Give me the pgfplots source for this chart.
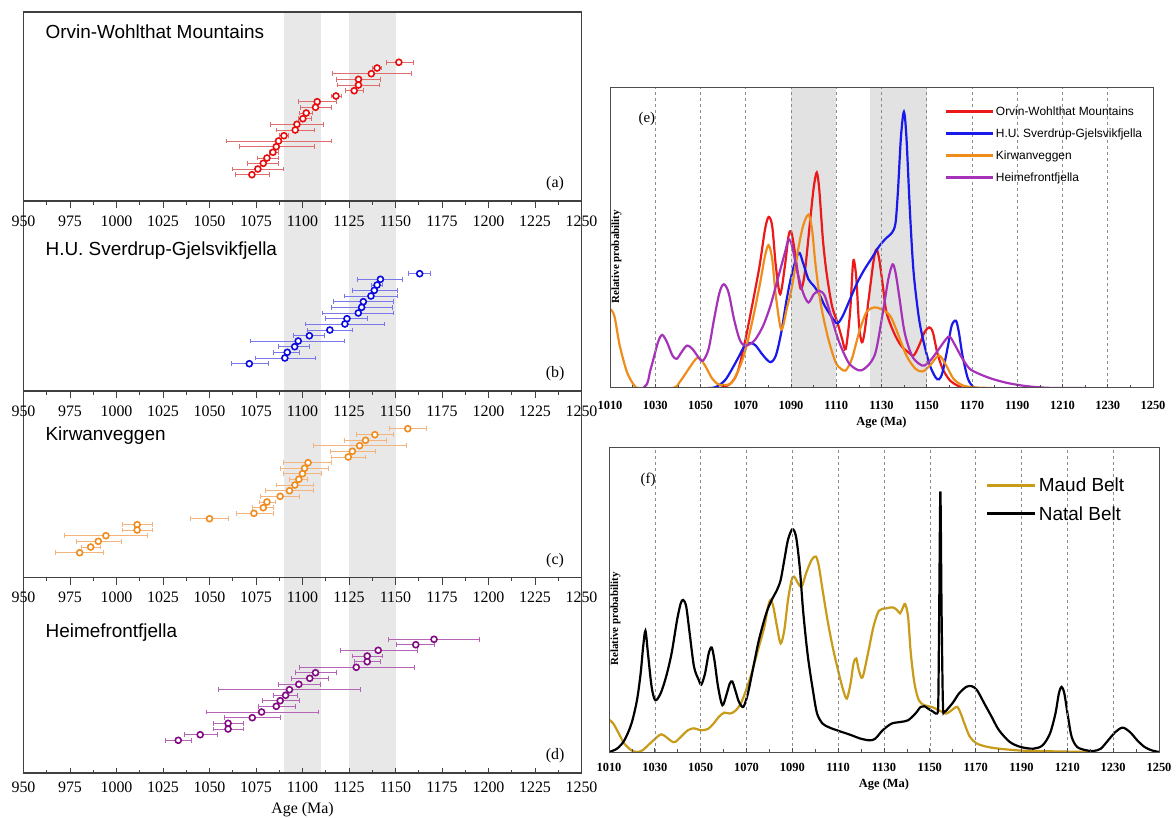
\documentclass[border=0pt]{standalone}
\usepackage{fontspec}
\setmainfont{Liberation Serif}
\newfontfamily\sans{Liberation Sans}
\usepackage{pgfplots}
\usepackage{pgfplotstable}
\pgfplotsset{compat=1.18}

\definecolor{cRed}{RGB}{232,12,12}
\definecolor{cRedBar}{RGB}{222,110,110}
\definecolor{cBlue}{RGB}{10,10,225}
\definecolor{cBlueBar}{RGB}{120,120,232}
\definecolor{cOrange}{RGB}{240,140,30}
\definecolor{cOrangeBar}{RGB}{244,180,125}
\definecolor{cPurple}{RGB}{130,10,130}
\definecolor{cPurpleBar}{RGB}{180,100,180}
\definecolor{band}{RGB}{232,232,232}
\definecolor{bandE}{RGB}{226,226,226}
\definecolor{eRed}{RGB}{235,25,25}
\definecolor{eBlue}{RGB}{25,25,235}
\definecolor{eOrange}{RGB}{240,140,25}
\definecolor{ePurple}{RGB}{165,50,185}
\definecolor{maud}{RGB}{200,155,25}

% ---------- left panels: age, row position (px), lower, upper ----------
\pgfplotstableread{
x y lo hi
1151.8 62.3 1145.4 1159.4
1140.1 68.0 1137.5 1142.5
1137.0 73.7 1116.0 1158.5
1130.1 79.3 1118.0 1142.0
1130.1 85.0 1119.0 1141.4
1127.8 90.7 1123.0 1133.0
1118.0 96.0 1115.4 1121.0
1107.9 101.7 1098.0 1118.0
1107.0 107.3 1098.8 1115.4
1102.0 113.0 1098.4 1105.6
1100.2 118.7 1098.0 1104.7
1097.0 124.3 1082.7 1111.3
1096.1 130.0 1085.9 1106.5
1090.0 135.7 1087.7 1092.7
1087.1 141.0 1059.0 1115.4
1085.9 146.7 1066.2 1106.5
1084.1 152.3 1082.3 1086.8
1080.9 158.0 1076.0 1087.3
1078.9 163.3 1070.6 1087.0
1076.0 169.0 1062.2 1090.0
1072.8 174.7 1064.0 1082.3
}\tabA
\pgfplotstableread{
x y lo hi
1163.0 273.7 1157.2 1168.9
1141.9 279.3 1129.6 1154.0
1140.1 285.0 1136.8 1143.2
1138.6 290.3 1126.9 1151.3
1136.8 296.0 1122.8 1151.3
1132.7 301.7 1116.5 1149.1
1131.8 307.3 1115.6 1148.6
1130.0 313.0 1110.7 1149.1
1123.9 318.7 1112.2 1135.0
1122.8 324.0 1101.4 1144.0
1114.7 330.0 1102.6 1126.9
1103.7 335.7 1095.4 1112.0
1097.7 341.0 1072.2 1122.8
1095.8 346.7 1087.3 1103.5
1091.8 352.3 1084.2 1098.5
1090.5 358.0 1074.7 1106.8
1071.4 363.7 1061.7 1081.5
}\tabB
\pgfplotstableread{
x y lo hi
1156.6 428.7 1146.6 1166.6
1138.9 434.7 1128.8 1148.8
1133.9 440.3 1122.5 1145.2
1130.7 445.7 1105.9 1155.9
1126.8 451.3 1114.8 1139.1
1124.6 457.0 1115.7 1134.1
1103.0 462.7 1090.0 1115.7
1101.1 468.3 1088.0 1113.9
1100.0 473.7 1090.0 1110.4
1098.0 479.3 1093.0 1102.9
1095.9 485.0 1085.9 1105.9
1093.0 490.7 1080.0 1105.9
1088.0 496.3 1077.3 1098.4
1080.9 502.0 1076.6 1085.4
1078.9 507.7 1072.9 1084.5
1073.9 513.3 1064.5 1084.5
1050.0 518.7 1040.0 1060.0
1011.1 524.7 1003.2 1019.3
1011.1 530.0 1003.2 1019.3
994.3 535.7 972.1 1016.4
990.2 541.3 978.2 1002.5
986.1 547.0 981.1 991.3
980.2 552.7 967.1 993.0
}\tabC
\pgfplotstableread{
x y lo hi
1170.7 639.3 1146.3 1195.0
1160.9 644.7 1150.7 1170.7
1140.7 650.3 1120.2 1161.8
1134.8 656.0 1127.0 1143.0
1134.8 661.7 1127.9 1142.1
1128.9 667.3 1098.4 1160.0
1107.0 672.7 1096.1 1118.0
1103.9 678.3 1094.3 1114.0
1098.0 684.3 1086.8 1109.5
1093.0 689.7 1055.0 1131.0
1090.9 695.3 1084.6 1097.5
1088.0 700.7 1078.2 1098.4
1085.9 706.3 1076.1 1096.1
1078.0 712.0 1048.2 1108.4
1073.0 717.7 1057.9 1088.2
1060.0 723.3 1052.0 1068.4
1060.0 729.0 1052.0 1068.4
1045.0 734.7 1036.3 1054.1
1033.2 740.3 1026.1 1040.4
}\tabD

% ---------- (e) probability curves ----------
\pgfplotstableread{
x y
1053.6 0
1058.4 0
1063.2 13
1066.4 48
1069.6 138
1072.8 248
1076.1 368
1078.5 478
1080.1 516
1081.7 488
1083.3 368
1085.2 283
1087.3 368
1088.9 458
1090.0 473
1091.3 428
1093.4 328
1094.5 298
1096.1 348
1098.5 508
1100.1 608
1101.4 650
1102.5 598
1104.1 448
1105.7 348
1108.1 248
1110.5 198
1112.6 148
1114.2 118
1116.1 228
1117.3 368
1117.9 383
1118.9 328
1120.1 188
1121.3 138
1122.5 168
1124.5 278
1126.6 388
1127.8 418
1129.0 388
1130.6 308
1132.2 228
1135.4 168
1138.6 128
1141.8 108
1144.2 98
1146.6 128
1149.0 168
1151.1 183
1152.7 168
1154.6 108
1157.0 58
1160.2 23
1163.4 8
1165.8 0
}\eRedT
\pgfplotstableread{
x y
1053.6 0
1056.8 3
1060.8 23
1064.0 58
1067.2 98
1069.6 128
1072.0 136
1074.4 128
1077.7 98
1080.9 78
1083.3 98
1085.7 168
1088.1 268
1090.5 348
1093.4 408
1095.3 378
1097.7 328
1100.1 308
1102.5 283
1104.9 248
1108.1 213
1110.5 195
1112.9 218
1116.1 268
1119.3 318
1122.5 358
1125.8 393
1129.0 428
1132.2 453
1134.6 468
1136.2 498
1137.3 598
1138.6 758
1139.9 833
1141.0 758
1142.6 528
1144.2 348
1146.6 208
1149.0 128
1151.4 68
1153.8 33
1155.4 26
1157.0 48
1159.4 128
1161.0 188
1162.9 203
1164.2 168
1165.8 98
1168.2 28
1170.6 3
1172.2 0
}\eBlueT
\pgfplotstableread{
x y
1010.0 238
1011.9 218
1014.3 128
1017.5 48
1020.7 8
1023.1 0
1037.6 0
1040.8 18
1044.8 58
1048.0 88
1049.6 90
1052.0 68
1055.2 28
1058.4 10
1063.2 13
1066.4 48
1069.6 108
1072.8 198
1076.1 308
1078.5 398
1080.1 431
1081.7 388
1083.3 278
1085.7 176
1088.1 238
1090.5 308
1092.9 408
1095.3 488
1097.7 523
1099.3 478
1100.9 368
1103.3 248
1106.5 148
1109.7 78
1112.1 58
1114.2 53
1116.9 88
1120.1 168
1123.3 228
1126.6 243
1129.8 238
1133.8 218
1137.0 168
1141.0 98
1145.0 58
1148.2 50
1151.4 68
1155.4 98
1158.6 68
1161.8 28
1165.8 8
1170.6 2
1178.7 0
}\eOrangeT
\pgfplotstableread{
x y
1010.0 0
1024.7 0
1028.0 58
1031.2 138
1033.1 160
1035.2 138
1037.6 98
1039.5 88
1041.6 108
1044.0 128
1046.4 118
1049.6 88
1051.2 83
1053.6 118
1056.0 208
1058.4 288
1060.3 313
1062.4 288
1064.8 208
1067.2 148
1069.3 128
1072.0 133
1074.4 148
1077.7 188
1080.9 248
1084.1 328
1087.3 408
1088.9 448
1090.5 428
1092.9 348
1095.3 288
1097.7 258
1100.1 283
1102.5 293
1104.9 278
1108.1 208
1111.3 138
1115.3 78
1118.5 58
1120.9 53
1124.1 68
1127.4 108
1130.6 228
1133.0 328
1134.9 373
1136.2 348
1137.8 278
1140.2 168
1143.4 98
1146.6 73
1149.0 68
1152.2 88
1155.4 118
1158.6 148
1160.2 155
1162.6 128
1165.8 88
1169.0 58
1173.0 43
1178.7 28
1185.1 16
1191.5 8
1197.9 3
1205.9 0
1220.3 0
}\ePurpleT

% ---------- (f) probability curves ----------
\pgfplotstableread{
x y
1010.0 97
1011.9 85
1014.3 55
1016.7 25
1019.8 5
1022.2 0
1024.6 5
1027.8 25
1031.0 45
1032.9 53
1034.9 45
1037.3 32
1038.9 30
1041.3 45
1044.4 65
1047.1 71
1050.0 65
1053.2 69
1055.6 85
1057.9 105
1060.3 118
1062.7 115
1065.1 123
1067.5 145
1069.8 185
1072.2 235
1075.4 315
1077.8 375
1079.4 435
1080.5 455
1081.7 435
1083.3 375
1084.9 325
1086.5 365
1088.1 455
1089.7 515
1090.8 525
1092.5 505
1094.1 495
1096.0 535
1098.4 575
1100.3 585
1101.6 555
1103.2 485
1105.6 385
1107.9 305
1110.3 235
1112.2 185
1113.8 160
1115.4 205
1116.7 265
1117.9 280
1119.0 245
1120.6 223
1123.0 295
1125.4 375
1127.8 423
1131.0 430
1133.8 433
1135.7 425
1137.0 415
1138.1 430
1139.2 443
1140.5 405
1141.7 295
1143.3 205
1145.2 155
1147.6 140
1150.8 135
1154.0 125
1157.1 115
1159.5 125
1161.9 135
1163.5 115
1165.1 85
1167.5 45
1170.6 25
1175.4 15
1180.2 10
1188.1 5
1196.0 3
1219.8 0
}\fMaud
\pgfplotstableread{
x y
1010.0 0
1013.5 10
1016.7 35
1019.8 85
1022.2 155
1023.8 235
1024.9 315
1025.9 363
1027.0 295
1028.6 195
1030.2 155
1032.5 175
1034.9 225
1037.3 295
1039.7 395
1041.3 445
1042.4 455
1043.7 435
1045.2 355
1047.1 255
1049.2 215
1050.3 202
1051.9 235
1053.5 295
1054.8 313
1056.0 275
1057.6 195
1059.5 140
1061.4 175
1062.7 205
1063.8 211
1065.1 185
1066.7 150
1068.6 135
1070.6 175
1073.0 255
1075.4 335
1078.6 415
1081.0 455
1083.3 485
1084.9 515
1086.5 575
1088.1 635
1090.0 667
1091.6 645
1093.2 555
1094.8 415
1096.8 285
1099.2 175
1100.8 115
1103.2 85
1106.3 73
1110.3 63
1115.1 52
1119.8 40
1123.8 35
1126.2 40
1129.4 65
1133.3 85
1137.3 90
1140.5 95
1143.7 115
1146.0 135
1147.6 137
1149.2 130
1151.6 120
1153.2 115
1153.7 155
1154.1 435
1154.6 780
1155.1 435
1155.7 145
1156.3 120
1157.9 130
1160.3 150
1162.7 175
1165.9 195
1168.3 197
1170.6 185
1173.8 145
1177.0 105
1180.2 65
1184.9 30
1189.7 15
1195.2 10
1199.2 20
1202.4 55
1204.8 115
1206.3 175
1207.5 195
1208.7 175
1210.3 105
1211.9 45
1214.3 15
1218.3 5
1221.4 3
1224.6 10
1227.8 35
1231.0 60
1234.1 73
1237.3 60
1240.5 35
1243.7 15
1246.8 5
1250.0 0
}\fNatal

\pgfplotsset{
  leftpanel/.style={
    scale only axis, width=558bp, xmin=950, xmax=1250, y dir=reverse,
    axis on top,
    axis line style={line width=1.1bp, black!75},
    xtick={950,975,...,1250}, minor x tick num=1, ytick=\empty,
    xtick pos=left,
    tick style={black!75, line width=0.9bp},
    major tick length=7bp, minor tick length=3.5bp,
    tick align=outside,
    /pgf/number format/assume math mode=true,
    /pgf/number format/1000 sep={},
    xticklabel style={font=\fontsize{16}{16}\selectfont, yshift=-4bp},
  },
  rightpanel/.style={
    scale only axis, xmin=1010, xmax=1250, ymin=0,
    axis on top,
    xtick={1010,1030,...,1250}, minor x tick num=1, ytick=\empty,
    xtick pos=left, tick align=inside,
    major tick length=4bp, minor tick length=3bp,
    tick style={black!70, line width=0.7bp},
    xmajorgrids,
    grid style={dashed, black!45, line width=0.6bp},
    axis line style={line width=1bp, black!70},
    /pgf/number format/assume math mode=true,
    /pgf/number format/1000 sep={},
    xticklabel style={font=\fontsize{12.5}{12.5}\selectfont\bfseries, yshift=-10bp},
    xlabel={Age (Ma)},
    xlabel style={font=\fontsize{12.5}{12.5}\selectfont\bfseries, yshift=0bp},
    legend cell align=left,
  },
}
% error-bar plot: #1 = marker colour, #2 = bar colour, #3 = table
\newcommand\errplot[3]{%
  \addplot[only marks, color=#2, mark=*, mark size=3bp,
     mark options={draw=#1, fill=white, line width=1.6bp},
     error bars/.cd, x dir=both, x explicit,
     error bar style={draw=#2, line width=0.9bp},
     error mark options={rotate=90, mark size=2.4bp, line width=0.9bp, draw=#2}]
  table[x=x, y=y,
    x error plus expr=\thisrow{hi}-\thisrow{x},
    x error minus expr=\thisrow{x}-\thisrow{lo}] {#3};}

\begin{document}
\begin{tikzpicture}
\useasboundingbox (0,0) rectangle (1176bp,-818bp);

% ----- (d) -----
\begin{axis}[leftpanel, at={(23.5bp,-577.5bp)}, anchor=north west,
  height=195.5bp, ymin=577.5, ymax=773,
  tick align=inside, major tick length=5bp, minor tick length=3bp,
  xticklabel style={yshift=-1bp},
  xlabel={Age (Ma)}, xlabel style={font=\fontsize{16}{16}\selectfont, yshift=-3bp}]
\fill[band] (axis cs:1090,577.5) rectangle (axis cs:1110,773);
\fill[band] (axis cs:1125,577.5) rectangle (axis cs:1150,773);
\errplot{cPurple}{cPurpleBar}{\tabD}
\node[anchor=west, font=\sans\fontsize{19}{19}\selectfont] at (axis cs:960,633) {Heimefrontfjella};
\node[font=\fontsize{16}{16}\selectfont] at (axis cs:1235.8,756) {(d)};
\end{axis}

% ----- (c) -----
\begin{axis}[leftpanel, at={(23.5bp,-391bp)}, anchor=north west,
  height=186.5bp, ymin=391, ymax=577.5]
\fill[band] (axis cs:1090,391) rectangle (axis cs:1110,577.5);
\fill[band] (axis cs:1125,391) rectangle (axis cs:1150,577.5);
\errplot{cOrange}{cOrangeBar}{\tabC}
\node[anchor=west, font=\sans\fontsize{19}{19}\selectfont] at (axis cs:960,436) {Kirwanveggen};
\node[font=\fontsize{16}{16}\selectfont] at (axis cs:1235.8,560.5) {(c)};
\end{axis}

% ----- (b) -----
\begin{axis}[leftpanel, at={(23.5bp,-201bp)}, anchor=north west,
  height=190bp, ymin=201, ymax=391]
\fill[band] (axis cs:1090,201) rectangle (axis cs:1110,391);
\fill[band] (axis cs:1125,201) rectangle (axis cs:1150,391);
\errplot{cBlue}{cBlueBar}{\tabB}
\node[anchor=west, font=\sans\fontsize{19}{19}\selectfont] at (axis cs:960,251) {H.U. Sverdrup-Gjelsvikfjella};
\node[font=\fontsize{16}{16}\selectfont] at (axis cs:1235.8,374) {(b)};
\end{axis}

% ----- (a) -----
\begin{axis}[leftpanel, at={(23.5bp,-12bp)}, anchor=north west,
  height=189bp, ymin=12, ymax=201]
\fill[band] (axis cs:1090,12) rectangle (axis cs:1110,201);
\fill[band] (axis cs:1125,12) rectangle (axis cs:1150,201);
\errplot{cRed}{cRedBar}{\tabA}
\node[anchor=west, font=\sans\fontsize{19}{19}\selectfont] at (axis cs:960,32) {Orvin-Wohlthat Mountains};
\node[font=\fontsize{16}{16}\selectfont] at (axis cs:1235.8,184) {(a)};
\end{axis}

% ----- (e) -----
\begin{axis}[rightpanel, at={(610bp,-87bp)}, anchor=north west,
  width=543bp, height=301bp, ymax=908,
  legend style={at={(0.615,0.943)}, anchor=north west, draw=none, fill=none,
    inner sep=0pt, row sep=8bp, font=\sans\fontsize{12}{12}\selectfont},
  legend image code/.code={\draw[#1, line width=2.8bp] (0bp,0bp) -- (47bp,0bp);}]
\fill[bandE] (axis cs:1090,0) rectangle (axis cs:1110,908);
\fill[bandE] (axis cs:1125,0) rectangle (axis cs:1150,908);
\addplot[eRed, line width=2.2bp, smooth] table {\eRedT};
\addlegendentry{Orvin-Wohlthat Mountains}
\addplot[eBlue, line width=2.2bp, smooth] table {\eBlueT};
\addlegendentry{H.U. Sverdrup-Gjelsvikfjella}
\addplot[eOrange, line width=2.2bp, smooth] table {\eOrangeT};
\addlegendentry{Kirwanveggen}
\addplot[ePurple, line width=2.2bp, smooth] table {\ePurpleT};
\addlegendentry{Heimefrontfjella}
\node[font=\fontsize{15}{15}\selectfont] at (rel axis cs:0.068,0.895) {(e)};
\node[rotate=90, font=\fontsize{11}{11}\selectfont\bfseries] at (rel axis cs:0.012,0.436) {Relative probability};
\end{axis}

% ----- (f) -----
\begin{axis}[rightpanel, at={(609bp,-447bp)}, anchor=north west,
  width=550bp, height=305bp, ymax=913,
  xticklabel style={yshift=2bp},
  legend style={at={(0.685,0.905)}, anchor=north west, draw=none, fill=none,
    inner sep=0pt, row sep=9bp, font=\sans\fontsize{19}{19}\selectfont},
  legend image code/.code={\draw[#1, line width=3bp] (0bp,0bp) -- (48bp,0bp);}]
\addplot[maud, line width=2.2bp, smooth] table {\fMaud};
\addlegendentry{Maud Belt}
\addplot[black, line width=2.2bp, smooth] table {\fNatal};
\addlegendentry{Natal Belt}
\node[font=\fontsize{15}{15}\selectfont] at (rel axis cs:0.071,0.893) {(f)};
\node[rotate=90, font=\fontsize{11}{11}\selectfont\bfseries] at (rel axis cs:0.012,0.436) {Relative probability};
\end{axis}
\end{tikzpicture}
\end{document}
